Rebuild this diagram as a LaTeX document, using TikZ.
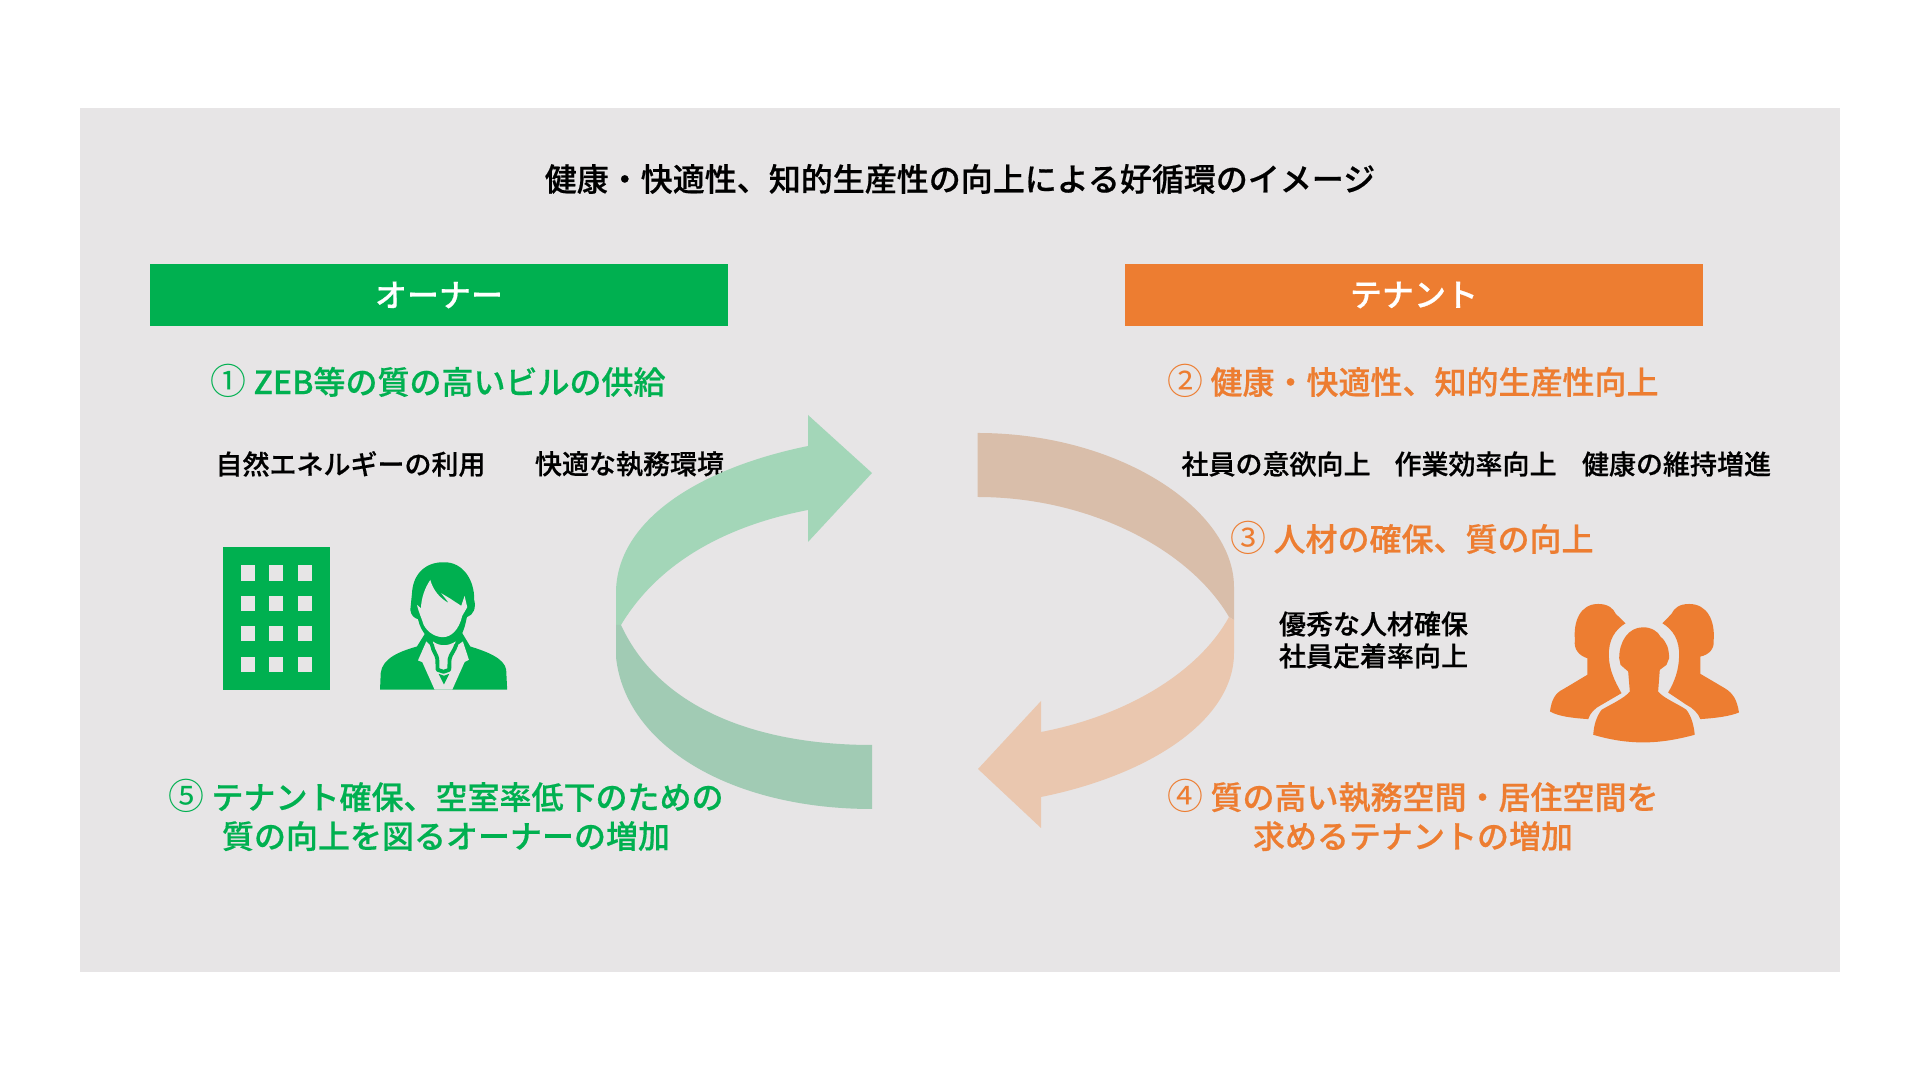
\documentclass[tikz,border=0pt]{standalone}
\usepackage{fontspec}
\setmainfont{Noto Sans CJK JP}[BoldFont={Noto Sans CJK JP Medium}, BoldFeatures={FakeBold=0.5}]
\usepackage{xcolor}
\definecolor{panelgray}{HTML}{E7E5E6}
\definecolor{ownergreen}{HTML}{00B050}
\definecolor{tenantorange}{HTML}{ED7D31}
\definecolor{greenupper}{HTML}{A3D6B8}
\definecolor{greenlower}{HTML}{A1CBB4}
\definecolor{orangeupper}{HTML}{D9BEAA}
\definecolor{orangelower}{HTML}{EAC7AF}
\newcommand{\numlabel}[1]{{\mdseries\fontsize{10.2}{11.1}\selectfont #1}}

\begin{document}
\begin{tikzpicture}[x=0.01cm, y=-0.01cm, line cap=round, line join=round,
  headbox/.style={minimum width=5.78cm, minimum height=0.62cm, inner sep=0pt, text=white,
    font=\fontsize{9.1}{11}\selectfont\bfseries},
  steptext/.style={inner sep=0pt, align=center, font=\fontsize{9.1}{11.1}\selectfont\bfseries},
  plaintext/.style={inner sep=0pt, align=left, font=\fontsize{7.68}{9.1}\selectfont\bfseries}]

  \useasboundingbox (0,0) rectangle (1920,1080);

  % ---- Panel ----
  \fill[panelgray] (80,108) rectangle (1840,972);
  \node[steptext] (title) at (960,179) {健康・快適性、知的生産性の向上による好循環のイメージ};

  % ---- Header bars ----
  \node[headbox, fill=ownergreen] (owner) at (439,295) {オーナー};
  \node[headbox, fill=tenantorange] (tenant) at (1414,295) {テナント};

  % ---- Step labels ----
  \node[steptext, text=ownergreen] (stepA) at (438,380.5) {\numlabel{①} ZEB等の質の高いビルの供給};
  \node[steptext, text=tenantorange] (stepB) at (1413,380.5) {\numlabel{②} 健康・快適性、知的生産性向上};
  \node[steptext, text=tenantorange] (stepC) at (1412,537.5) {\numlabel{③} 人材の確保、質の向上};
  \node[steptext, text=tenantorange] (stepD) at (1413,815) {\numlabel{④} 質の高い執務空間・居住空間を\\求めるテナントの増加};
  \node[steptext, text=ownergreen] (stepE) at (446,815) {\numlabel{⑤} テナント確保、空室率低下のための\\質の向上を図るオーナーの増加};

  % ---- Plain labels ----
  \node[plaintext] (nature) at (350.5,464) {自然エネルギーの利用};
  \node[plaintext] (comfort) at (629.5,464) {快適な執務環境};
  \node[plaintext] (motivation) at (1276,464) {社員の意欲向上};
  \node[plaintext] (efficiency) at (1475.5,464) {作業効率向上};
  \node[plaintext] (health) at (1676.5,464) {健康の維持増進};
  \node[plaintext] (talent) at (1373.5,640) {優秀な人材確保\\社員定着率向上};

  % ---- Green arrow, upper part ----
  \fill[greenupper] (616,625) -- (616,593) .. controls (616,520) and (700,468) .. (808,446)
    -- (808,415) -- (872,473) -- (808,542) -- (808,510)
    .. controls (730,525) and (660,560) .. (621,625) -- cycle;
  % ---- Green arrow, lower part ----
  \fill[greenlower] (616,625) -- (616,657) .. controls (625,745) and (730,809) .. (872,809)
    -- (872,745) .. controls (760,745) and (660,710) .. (621,625) -- cycle;

  % ---- Orange arrow, upper part ----
  \fill[orangeupper] (977.5,433) .. controls (1120,433) and (1234,510) .. (1234,587)
    -- (1234,620) -- (1229,617) .. controls (1190,550) and (1090,497) .. (977.5,497) -- cycle;
  % ---- Orange arrow, lower part ----
  \fill[orangelower] (1234,620) -- (1234,653) .. controls (1234,720) and (1150,775) .. (1041,797)
    -- (1041,828) -- (978,769) -- (1041,701) -- (1041,732)
    .. controls (1130,715) and (1200,670) .. (1229,617) -- cycle;

  % ---- Building ----
  \fill[ownergreen] (222.7,547) rectangle (330,690);
  \foreach \wx in {241,269.3,298.3}{
    \foreach \wy in {565.3,595.7,626,656.7}{
      \fill[panelgray] (\wx,\wy) rectangle ++(14,15.3);
    }
  }

  % ---- Woman (crop units) ----
  \begin{scope}[shift={(200,530)}, x=0.00333cm, y=-0.00333cm]
    % body
    \fill[ownergreen] (541,480) -- (543,430) .. controls (548,385) and (600,365) .. (652,350)
      -- (680,305) -- (785,305) -- (812,350) .. controls (860,365) and (915,385) .. (920,420)
      -- (923,480) -- cycle;
    % hair and neck
    \fill[ownergreen] (735,97) .. controls (680,95) and (640,130) .. (637,190)
      -- (632,240) .. controls (634,258) and (645,265) .. (655,268)
      .. controls (660,290) and (668,305) .. (685,325) -- (780,325)
      .. controls (795,300) and (798,280) .. (802,262)
      .. controls (822,255) and (830,235) .. (824,210)
      .. controls (825,150) and (790,97) .. (735,97) -- cycle;
    % face
    \fill[panelgray] (692,150) .. controls (675,175) and (665,205) .. (664,235)
      -- (652,225) .. controls (658,250) and (665,262) .. (672,285)
      .. controls (685,310) and (710,322) .. (730,322)
      .. controls (755,322) and (778,300) .. (788,258)
      -- (803,232) -- (795,198) -- (785,228) -- (750,205) -- (725,190)
      -- (748,220) .. controls (720,205) and (700,180) .. (692,150) -- cycle;
    % shirt
    \fill[panelgray] (680,335) -- (655,392) -- (668,397) -- (705,480) -- (758,480)
      -- (795,397) -- (808,390) -- (790,335) .. controls (775,345) and (770,350) .. (760,358)
      -- (705,358) .. controls (695,350) and (690,345) .. (680,335) -- cycle;
    \fill[panelgray] (700,335) .. controls (720,350) and (745,350) .. (768,335) -- (760,365) -- (705,365) -- cycle;
    % necklace
    \draw[ownergreen, line width=1.1pt] (697,345) .. controls (700,365) and (712,375) .. (713,388)
      -- (714,420) -- (732,426) -- (749,420) -- (750,388) .. controls (752,375) and (765,362) .. (770,345);
    \fill[ownergreen] (717,432) -- (733,464) -- (749,432) -- (733,438) -- cycle;
  \end{scope}

  % ---- People (crop units) ----
  \begin{scope}[shift={(1530,590)}, x=0.00333cm, y=-0.00333cm]
    % left person
    \fill[tenantorange] (205,42) .. controls (235,42) and (250,55) .. (258,72)
      -- (287,100) .. controls (255,120) and (235,150) .. (237,200)
      .. controls (238,240) and (255,275) .. (275,310) -- (215,345) .. controls (195,355) and (180,370) .. (175,388)
      .. controls (130,385) and (85,380) .. (60,365)
      .. controls (65,330) and (75,310) .. (100,298)
      -- (172,255) -- (172,205) .. controls (150,198) and (130,180) .. (135,150)
      .. controls (130,95) and (150,42) .. (205,42) -- cycle;
    % right person
    \fill[tenantorange] (478,42) .. controls (448,42) and (433,55) .. (425,72)
      -- (398,100) .. controls (430,120) and (450,150) .. (448,200)
      .. controls (447,240) and (435,275) .. (415,308) -- (470,345) .. controls (490,355) and (505,370) .. (512,388)
      .. controls (555,385) and (600,380) .. (628,368)
      .. controls (622,330) and (610,310) .. (585,295)
      -- (512,252) -- (512,200) .. controls (535,195) and (555,180) .. (552,150)
      .. controls (556,95) and (535,42) .. (478,42) -- cycle;
    % middle person
    \fill[tenantorange] (340,112) .. controls (365,112) and (385,125) .. (392,140)
      .. controls (410,155) and (418,175) .. (418,205)
      -- (410,225) -- (390,240) -- (385,305)
      .. controls (400,325) and (450,345) .. (470,360)
      .. controls (485,380) and (492,405) .. (495,435)
      .. controls (440,450) and (390,458) .. (340,458)
      .. controls (290,458) and (240,450) .. (190,435)
      .. controls (192,405) and (200,380) .. (215,360)
      .. controls (240,345) and (285,325) .. (300,305)
      -- (295,245) -- (272,225) -- (268,205)
      .. controls (268,155) and (295,112) .. (340,112) -- cycle;
  \end{scope}

\end{tikzpicture}
\end{document}
